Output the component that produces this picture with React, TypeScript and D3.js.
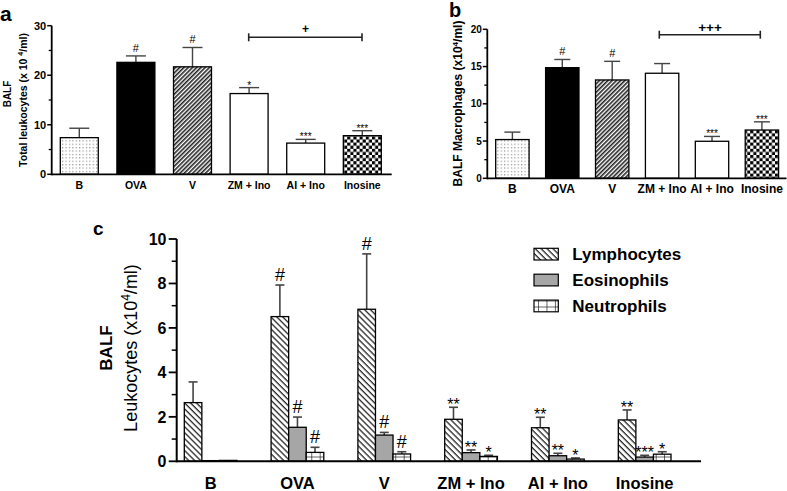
import React from 'react';
import * as d3 from 'd3';

const groups = ['B', 'OVA', 'V', 'ZM + Ino', 'AI + Ino', 'Inosine'];

// Panel a – total leukocytes
const totalLeukocytes = [7.4, 22.6, 21.7, 16.3, 6.3, 7.8];
const totalLeukocytesSem = [1.9, 1.3, 3.9, 1.2, 0.75, 1.0];
const totalLeukocytesSig = ['', '#', '#', '*', '***', '***'];
const aTicks = [0, 10, 20, 30];
const aMinor = [5, 15, 25];

// Panel b – macrophages
const macrophages = [5.2, 14.85, 13.2, 14.1, 4.97, 6.48];
const macrophagesSem = [1.0, 1.1, 2.5, 1.3, 0.65, 1.1];
const macrophagesSig = ['', '#', '#', '', '***', '***'];
const bTicks = [0, 5, 10, 15, 20];
const bMinor = [2.5, 7.5, 12.5, 17.5];

// Panel c – differential counts
const series = ['Lymphocytes', 'Eosinophils', 'Neutrophils'];
const lymphocytes = [2.64, 6.51, 6.84, 1.89, 1.51, 1.86];
const lymphocytesSem = [0.93, 1.42, 2.49, 0.54, 0.47, 0.45];
const eosinophils = [0.03, 1.53, 1.18, 0.39, 0.25, 0.19];
const eosinophilsSem = [0, 0.46, 0.12, 0.12, 0.11, 0.08];
const neutrophils = [0.04, 0.4, 0.33, 0.22, 0.1, 0.32];
const neutrophilsSem = [0, 0.23, 0.1, 0.05, 0.05, 0.11];
const lymphSig = ['', '#', '#', '**', '**', '**'];
const eosSig = ['', '#', '#', '**', '**', '***'];
const neutSig = ['', '#', '#', '*', '*', '*'];
const cTicks = [0, 2, 4, 6, 8, 10];
const cMinor = [1, 3, 5, 7, 9];

const FONT = "Arial, 'Liberation Sans', Helvetica, sans-serif";
const groupFills = ['url(#dots)', '#000', 'url(#diag)', '#fff', '#fff', 'url(#checker)'];
const seriesFills = ['url(#lymph)', '#a6a6a6', 'url(#grid)'];

function SigText({ x, capY, s, hashSize, starSize }: any) {
  if (!s) return null;
  const isHash = s === '#';
  return (
    <text
      x={x}
      y={isHash ? capY - 4 : capY + (starSize > 12 ? 3 : 1)}
      textAnchor="middle"
      fontSize={isHash ? hashSize : starSize}
      fontFamily={FONT}
      fill="#000"
    >
      {s}
    </text>
  );
}

function SimplePanel({ values, sems, sigs, x, y, ticks, minor, capW, tickFont, xFont, xLabelY, hashSize, starSize, axisX, baseEnd }: any) {
  const y0 = y(0);
  return (
    <g>
      {values.map((v: number, i: number) => {
        const g = groups[i];
        const bx = x(g)!;
        const bw = x.bandwidth();
        const cx = bx + bw / 2;
        const top = y(v);
        const et = y(v + sems[i]);
        return (
          <g key={g}>
            <line x1={cx} x2={cx} y1={top} y2={et} stroke="#444" strokeWidth={1.4} />
            <line x1={cx - capW / 2} x2={cx + capW / 2} y1={et} y2={et} stroke="#444" strokeWidth={1.4} />
            <rect x={bx} y={top} width={bw} height={y0 - top} fill={groupFills[i]} stroke="#000" strokeWidth={1.3} />
            <SigText x={cx} capY={et} s={sigs[i]} hashSize={hashSize} starSize={starSize} />
            <text x={cx} y={xLabelY} textAnchor="middle" fontSize={xFont} fontWeight="bold" fontFamily={FONT}>{g}</text>
          </g>
        );
      })}
      <line x1={axisX} x2={axisX} y1={y(ticks[ticks.length - 1])} y2={y0 + 1} stroke="#000" strokeWidth={1.8} />
      <line x1={axisX} x2={baseEnd} y1={y0} y2={y0} stroke="#000" strokeWidth={1.8} />
      {ticks.map((t: number) => (
        <g key={t}>
          <line x1={axisX - 4.5} x2={axisX} y1={y(t)} y2={y(t)} stroke="#000" strokeWidth={1.5} />
          <text x={axisX - 5.5} y={y(t)} dy="0.35em" textAnchor="end" fontSize={tickFont} fontWeight="bold" fontFamily={FONT}>{t}</text>
        </g>
      ))}
      {minor.map((t: number) => (
        <line key={t} x1={axisX - 3} x2={axisX} y1={y(t)} y2={y(t)} stroke="#000" strokeWidth={1.3} />
      ))}
    </g>
  );
}

export default function App() {
  // Panel a scales
  const ya = d3.scaleLinear().domain([0, 30]).range([174.3, 25.7]);
  const xa = d3.scaleBand<string>().domain(groups).range([60.3, 381.3]).paddingInner(0.329).paddingOuter(0);
  // Panel b scales
  const yb = d3.scaleLinear().domain([0, 20]).range([178.3, 29.3]);
  const xb = d3.scaleBand<string>().domain(groups).range([495.7, 778.6]).paddingInner(0.331).paddingOuter(0);
  // Panel c scales
  const yc = d3.scaleLinear().domain([0, 10]).range([461.3, 239]);
  const x0 = d3.scaleBand<string>().domain(groups).range([184.3, 671]).paddingInner(0.393).paddingOuter(0);
  const x1 = d3.scaleBand<string>().domain(series).range([0, x0.bandwidth()]).padding(0);

  const cVals = [lymphocytes, eosinophils, neutrophils];
  const cSems = [lymphocytesSem, eosinophilsSem, neutrophilsSem];
  const cSigs = [lymphSig, eosSig, neutSig];
  const axC = 176.7;
  const y0c = yc(0);

  return (
    <svg width={787} height={491} style={{ position: 'absolute', left: 0, top: 0, background: '#fff' }} fontFamily={FONT}>
      <defs>
        <pattern id="dots" patternUnits="userSpaceOnUse" width={3.4} height={3.4}>
          <rect width={3.4} height={3.4} fill="#fff" />
          <rect x={1} y={1} width={1} height={1} fill="#666" />
        </pattern>
        <pattern id="diag" patternUnits="userSpaceOnUse" width={3} height={3} patternTransform="rotate(45)">
          <rect width={3} height={3} fill="#fff" />
          <line x1={0.8} x2={0.8} y1={0} y2={3} stroke="#222" strokeWidth={1.6} />
        </pattern>
        <pattern id="checker" patternUnits="userSpaceOnUse" width={6.2} height={6.2}>
          <rect width={6.2} height={6.2} fill="#fff" />
          <rect x={0} y={0} width={3.1} height={3.1} fill="#000" />
          <rect x={3.1} y={3.1} width={3.1} height={3.1} fill="#000" />
        </pattern>
        <pattern id="lymph" patternUnits="userSpaceOnUse" width={4.2} height={4.2} patternTransform="rotate(-45)">
          <rect width={4.2} height={4.2} fill="#fff" />
          <line x1={1} x2={1} y1={0} y2={4.2} stroke="#000" strokeWidth={1.1} />
        </pattern>
        <pattern id="grid" patternUnits="userSpaceOnUse" width={8.4} height={6} x={0.5} y={0.5}>
          <rect width={8.4} height={6} fill="#fff" />
          <line x1={0} x2={0} y1={0} y2={6} stroke="#000" strokeWidth={1.2} />
          <line x1={0} x2={8.4} y1={0} y2={0} stroke="#000" strokeWidth={1.2} />
        </pattern>
      </defs>

      {/* Panel a */}
      <text x={0} y={21} fontSize={21} fontWeight="bold">a</text>
      <text transform="translate(10.5,94) rotate(-90)" textAnchor="middle" fontSize={10} fontWeight="bold">BALF</text>
      <text transform="translate(26.5,100) rotate(-90)" textAnchor="middle" fontSize={10.5} fontWeight="bold">
        Total leukocytes (x 10 <tspan fontSize={7} dy={-4}>4</tspan><tspan dy={4}>/ml)</tspan>
      </text>
      <SimplePanel values={totalLeukocytes} sems={totalLeukocytesSem} sigs={totalLeukocytesSig} x={xa} y={ya}
        ticks={aTicks} minor={aMinor} capW={20} tickFont={11} xFont={10.5} xLabelY={189.3} hashSize={11} starSize={10}
        axisX={51.7} baseEnd={391.7} />
      <g>
        <line x1={248.7} x2={362} y1={37.3} y2={37.3} stroke="#222" strokeWidth={1.6} />
        <line x1={248.7} x2={248.7} y1={33.3} y2={41.3} stroke="#222" strokeWidth={1.6} />
        <line x1={362} x2={362} y1={33.3} y2={41.3} stroke="#222" strokeWidth={1.6} />
        <text x={305.5} y={32.5} textAnchor="middle" fontSize={12} fontWeight="bold">+</text>
      </g>

      {/* Panel b */}
      <text x={449} y={16.7} fontSize={20} fontWeight="bold">b</text>
      <text transform="translate(462,103.5) rotate(-90)" textAnchor="middle" fontSize={12} fontWeight="bold">
        BALF Macrophages (x10<tspan fontSize={8} dy={-4.5}>4</tspan><tspan dy={4.5}>/ml)</tspan>
      </text>
      <SimplePanel values={macrophages} sems={macrophagesSem} sigs={macrophagesSig} x={xb} y={yb}
        ticks={bTicks} minor={bMinor} capW={16} tickFont={10} xFont={12} xLabelY={193.3} hashSize={11} starSize={10}
        axisX={487.3} baseEnd={786.5} />
      <g>
        <line x1={659.3} x2={760.3} y1={34.7} y2={34.7} stroke="#222" strokeWidth={1.6} />
        <line x1={659.3} x2={659.3} y1={30.7} y2={38.7} stroke="#222" strokeWidth={1.6} />
        <line x1={760.3} x2={760.3} y1={30.7} y2={38.7} stroke="#222" strokeWidth={1.6} />
        <text x={710} y={31.5} textAnchor="middle" fontSize={13.5} fontWeight="bold">+++</text>
      </g>

      {/* Panel c */}
      <text x={93} y={235} fontSize={19} fontWeight="bold">c</text>
      <text transform="translate(111.5,348) rotate(-90)" textAnchor="middle" fontSize={17} fontWeight="bold">BALF</text>
      <text transform="translate(136.5,348) rotate(-90)" textAnchor="middle" fontSize={18}>
        Leukocytes (x10<tspan fontSize={12} dy={-7}>4</tspan><tspan dy={7}>/ml)</tspan>
      </text>
      {groups.map((g, gi) => {
        const gx = x0(g)!;
        return (
          <g key={g}>
            {series.map((s, si) => {
              const v = cVals[si][gi];
              const sem = cSems[si][gi];
              const bx = gx + x1(s)!;
              const bw = x1.bandwidth();
              const cx = bx + bw / 2;
              const top = yc(v);
              const et = yc(v + sem);
              return (
                <g key={s}>
                  {sem > 0 && (
                    <g>
                      <line x1={cx} x2={cx} y1={top} y2={et} stroke="#444" strokeWidth={1.6} />
                      <line x1={cx - 4.5} x2={cx + 4.5} y1={et} y2={et} stroke="#444" strokeWidth={1.6} />
                    </g>
                  )}
                  <rect x={bx} y={top} width={bw} height={y0c - top} fill={seriesFills[si]} stroke="#000" strokeWidth={1.3} />
                  <SigText x={cx} capY={et} s={cSigs[si][gi]} hashSize={18} starSize={16} />
                </g>
              );
            })}
            <text x={gx + x0.bandwidth() / 2} y={488.5} textAnchor="middle" fontSize={16.5} fontWeight="bold">{g}</text>
          </g>
        );
      })}
      <line x1={axC} x2={axC} y1={yc(10)} y2={y0c + 1} stroke="#000" strokeWidth={2} />
      <line x1={axC} x2={701} y1={y0c} y2={y0c} stroke="#000" strokeWidth={2} />
      {cTicks.map((t) => (
        <g key={t}>
          <line x1={axC - 8} x2={axC} y1={yc(t)} y2={yc(t)} stroke="#000" strokeWidth={1.8} />
          <text x={166.5} y={yc(t)} dy="0.36em" textAnchor="end" fontSize={16} fontWeight="bold">{t}</text>
        </g>
      ))}
      {cMinor.map((t) => (
        <line key={t} x1={axC - 5} x2={axC} y1={yc(t)} y2={yc(t)} stroke="#000" strokeWidth={1.5} />
      ))}

      {/* Legend */}
      {series.map((s, si) => (
        <g key={s}>
          <rect x={534} y={248.3 + si * 25.9} width={24.3} height={11.7} fill={seriesFills[si]} stroke="#000" strokeWidth={1.2} />
          <text x={572.3} y={260 + si * 25.9} fontSize={17} fontWeight="bold">{s}</text>
        </g>
      ))}
    </svg>
  );
}
